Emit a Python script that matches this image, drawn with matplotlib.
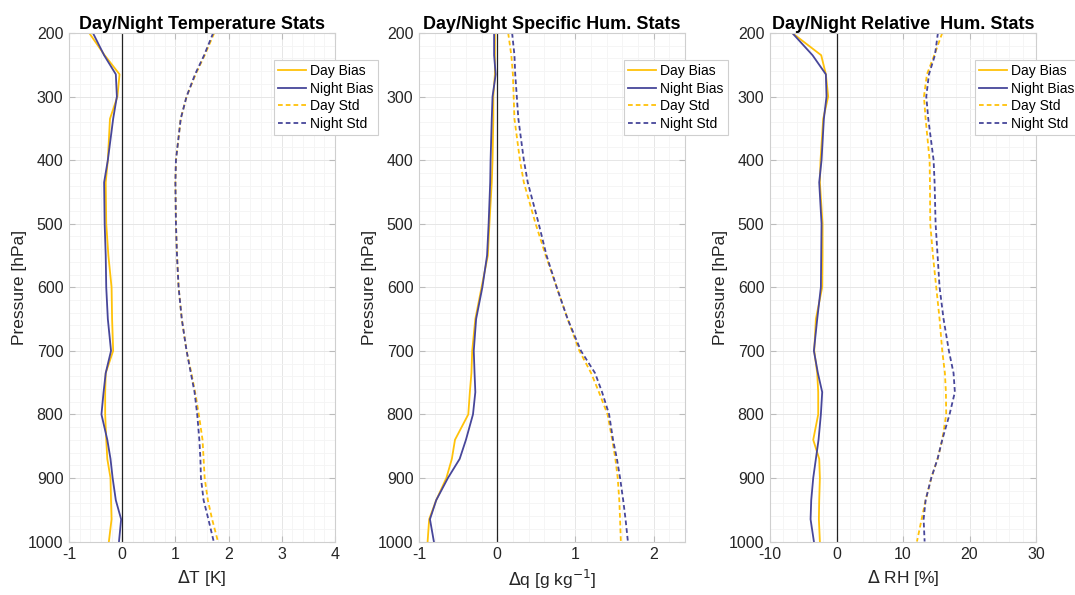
import numpy as np
import matplotlib
matplotlib.use("Agg")
import matplotlib.pyplot as plt
from matplotlib.ticker import MultipleLocator

plt.rcParams['font.family'] = ['Liberation Sans', 'DejaVu Sans']
plt.rcParams['axes.unicode_minus'] = False

# Pressure levels [hPa]
pressure = [200, 235, 265, 300, 335, 400, 435, 500, 550, 600, 650, 700,
            735, 765, 800, 840, 870, 900, 935, 965, 1000]

# Temperature stats [K]
t_day_bias = [-0.62, -0.33, -0.05, -0.09, -0.23, -0.27, -0.31, -0.30, -0.26, -0.20, -0.19, -0.17,
              -0.31, -0.32, -0.32, -0.30, -0.28, -0.22, -0.21, -0.20, -0.25]
t_night_bias = [-0.55, -0.34, -0.12, -0.10, -0.17, -0.27, -0.34, -0.33, -0.31, -0.30, -0.27, -0.21,
                -0.31, -0.35, -0.39, -0.28, -0.22, -0.18, -0.12, -0.02, -0.06]
t_day_std = [1.73, 1.55, 1.38, 1.21, 1.10, 1.01, 1.00, 1.01, 1.03, 1.06, 1.12, 1.21,
             1.30, 1.37, 1.44, 1.51, 1.53, 1.55, 1.61, 1.69, 1.80]
t_night_std = [1.71, 1.54, 1.37, 1.21, 1.10, 1.01, 1.00, 1.01, 1.03, 1.06, 1.12, 1.21,
               1.29, 1.36, 1.41, 1.45, 1.47, 1.48, 1.53, 1.62, 1.72]

# Specific humidity stats [g/kg]
q_day_bias = [-0.03, -0.03, -0.03, -0.05, -0.05, -0.06, -0.07, -0.10, -0.12, -0.20, -0.28, -0.32,
              -0.33, -0.35, -0.37, -0.54, -0.58, -0.65, -0.78, -0.87, -0.89]
q_night_bias = [-0.04, -0.04, -0.02, -0.06, -0.07, -0.085, -0.09, -0.11, -0.13, -0.19, -0.27, -0.30,
                -0.29, -0.28, -0.31, -0.40, -0.48, -0.63, -0.78, -0.86, -0.81]
q_day_std = [0.14, 0.18, 0.20, 0.21, 0.22, 0.29, 0.34, 0.49, 0.62, 0.76, 0.90, 1.05,
             1.20, 1.30, 1.41, 1.47, 1.51, 1.54, 1.56, 1.57, 1.58]
q_night_std = [0.19, 0.22, 0.23, 0.25, 0.27, 0.34, 0.39, 0.53, 0.63, 0.76, 0.90, 1.07,
               1.25, 1.34, 1.43, 1.48, 1.53, 1.57, 1.61, 1.64, 1.67]

# Relative humidity stats [%]
rh_day_bias = [-6.65, -2.3, -1.6, -1.25, -2.0, -2.4, -2.5, -2.1, -2.1, -2.15, -3.1, -3.35,
               -2.9, -2.75, -2.75, -3.5, -2.6, -2.5, -2.6, -2.65, -2.5]
rh_night_bias = [-6.65, -3.6, -1.6, -1.5, -1.9, -2.25, -2.6, -2.25, -2.3, -2.35, -2.9, -3.4,
                 -2.8, -2.15, -2.35, -2.7, -3.1, -3.5, -3.8, -3.9, -3.4]
rh_day_std = [15.9, 14.7, 13.6, 13.15, 13.4, 14.0, 14.05, 14.1, 14.5, 15.0, 15.5, 15.9,
              16.3, 16.45, 16.5, 15.9, 15.2, 14.25, 13.4, 12.8, 12.1]
rh_night_std = [15.25, 14.8, 13.9, 13.5, 13.8, 14.6, 14.75, 14.9, 15.2, 15.5, 16.1, 16.9,
                17.6, 17.8, 17.0, 15.9, 15.2, 14.25, 13.4, 13.1, 13.25]

titles = ["Day/Night Temperature Stats", "Day/Night Specific Hum. Stats",
          "Day/Night Relative  Hum. Stats"]
xlabels = [r"$\Delta$T [K]", r"$\Delta$q [g kg$^{-1}$]", r"$\Delta$ RH [%]"]
xlims = [(-1, 4), (-1, 2.4), (-10, 30)]
xmajor = [1, 1, 10]
xminor = [0.2, 0.2, 2]
legend_labels = ["Day Bias", "Night Bias", "Day Std", "Night Std"]

day_color = "#FFC20A"
night_color = "#47469A"

W, H = 1075, 595
fig = plt.figure(figsize=(W / 100, H / 100), dpi=100)

lefts = [69, 419, 770]
ax_w = 266
top, bottom = 33, 541.5

panels = [
    (t_day_bias, t_night_bias, t_day_std, t_night_std),
    (q_day_bias, q_night_bias, q_day_std, q_night_std),
    (rh_day_bias, rh_night_bias, rh_day_std, rh_night_std),
]

for i, (db, nb, ds, ns) in enumerate(panels):
    ax = fig.add_axes([lefts[i] / W, 1 - bottom / H, ax_w / W, (bottom - top) / H])
    dash = (0, (2.6, 1.7))
    l1, = ax.plot(db, pressure, color=day_color, lw=1.3)
    l2, = ax.plot(nb, pressure, color=night_color, lw=1.3)
    l3, = ax.plot(ds, pressure, color=day_color, lw=1.3, linestyle=dash)
    l4, = ax.plot(ns, pressure, color=night_color, lw=1.3, linestyle=dash)
    ax.axvline(0, color="#222222", lw=0.9, zorder=1)
    ax.set_xlim(*xlims[i])
    ax.set_ylim(1000, 200)
    ax.xaxis.set_major_locator(MultipleLocator(xmajor[i]))
    ax.xaxis.set_minor_locator(MultipleLocator(xminor[i]))
    ax.yaxis.set_major_locator(MultipleLocator(100))
    ax.yaxis.set_minor_locator(MultipleLocator(20))
    ax.grid(True, which="major", color="#e6e6e6", lw=0.7, zorder=0)
    ax.grid(True, which="minor", color="#f4f4f4", lw=0.6, zorder=0)
    ax.set_axisbelow(True)
    for sp in ax.spines.values():
        sp.set_color("#cfcfcf")
        sp.set_linewidth(0.8)
    ax.tick_params(which="both", direction="in", color="#bbbbbb", labelcolor="#262626",
                   labelsize=11.5, top=True, right=True, pad=4)
    ax.tick_params(which="major", length=4)
    ax.tick_params(which="minor", length=0)
    ax.set_title(titles[i], fontsize=13, fontweight="bold", pad=3)
    ax.set_xlabel(xlabels[i], fontsize=12.5, color="#262626", labelpad=4)
    ax.set_ylabel("Pressure [hPa]", fontsize=12.5, color="#262626", labelpad=1)
    leg = ax.legend([l1, l2, l3, l4], legend_labels, loc="upper left",
                    bbox_to_anchor=(205 / ax_w, 1 - 27 / (bottom - top)),
                    fontsize=10, frameon=True, fancybox=False, framealpha=1,
                    edgecolor="#cfcfcf", handlelength=2.0, handletextpad=0.3,
                    labelspacing=0.25, borderpad=0.3, borderaxespad=0)
    leg.get_frame().set_linewidth(0.8)

fig.savefig("out.png", dpi=100)
